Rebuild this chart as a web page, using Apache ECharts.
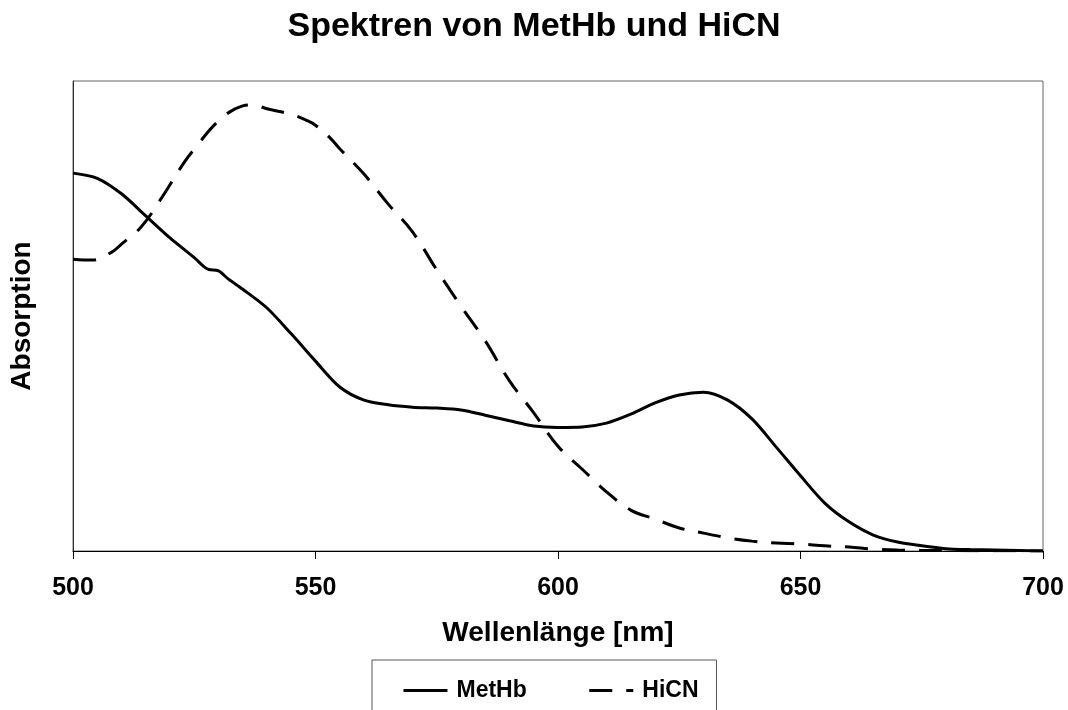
<!DOCTYPE html>
<html>
<head>
<meta charset="utf-8">
<script src="https://cdn.jsdelivr.net/npm/echarts@6/dist/echarts.min.js"></script>
<style>
html,body{margin:0;padding:0;background:#fff;}
#chart{width:1068px;height:710px;}
</style>
</head>
<body>
<div id="chart"></div>
<script>
const titleText = 'Spektren von MetHb und HiCN';
const xAxisName = 'Wellenlänge [nm]';
const yAxisName = 'Absorption';
const seriesNames = ['MetHb', 'HiCN'];
const xTicks = [500, 550, 600, 650, 700];

const metHbX = [500,505,510,515,520,525,527,528,530,532,535,540,545,550,555,560,565,570,575,580,585,590,595,600,605,610,615,620,625,630,635,640,645,650,655,660,665,670,675,680,685,690,695,700];
const metHbY = [80.4,79.3,76.0,71.3,66.6,62.4,60.5,59.9,59.6,57.9,55.7,51.7,46.2,40.4,34.9,32.1,31.1,30.6,30.4,30.0,28.9,27.7,26.6,26.3,26.4,27.2,29.1,31.5,33.2,33.8,32.1,28.1,22.1,16.0,10.2,6.2,3.4,1.9,1.1,0.5,0.3,0.2,0.1,0.0];

const hicnX = [500,504,508,510,514,518,523,525,530,535,537,540,545,548,550,553,555,560,565,570,575,580,585,590,595,600,605,610,615,620,625,630,635,640,645,650,655,660,665,670,680,690,700];
const hicnY = [62.1,61.9,63.6,65.3,68.9,74.7,82.8,85.5,91.5,94.7,94.9,94.1,92.9,91.7,90.6,87.9,85.6,80.2,73.8,67.9,59.8,52.1,44.7,36.2,29.4,22.3,17.4,12.6,8.7,6.8,4.9,3.8,2.8,2.1,1.7,1.5,1.1,0.85,0.4,0.2,0.1,0.05,0];

const FONT = '"Liberation Sans", Arial, sans-serif';
const pairs = (xs, ys) => xs.map((x, i) => [x, ys[i]]);

const chart = echarts.init(document.getElementById('chart'), null, {renderer: 'canvas'});
chart.setOption({
  backgroundColor: '#ffffff',
  animation: false,
  title: {
    text: titleText,
    left: 'center',
    top: 5,
    textStyle: {fontFamily: FONT, fontWeight: 'bold', fontSize: 34, color: '#000'}
  },
  grid: {
    left: 73, right: 25, top: 81, bottom: 159,
    show: true, borderColor: '#666', borderWidth: 1, backgroundColor: '#fff'
  },
  xAxis: {
    type: 'value',
    min: 500, max: 700, interval: 50,
    name: xAxisName,
    nameLocation: 'middle',
    nameGap: 68,
    nameTextStyle: {fontFamily: FONT, fontWeight: 'bold', fontSize: 28, color: '#000'},
    axisLine: {show: true, lineStyle: {color: '#000', width: 1}},
    axisTick: {show: true, inside: false, length: 8, lineStyle: {color: '#000'}},
    axisLabel: {
      margin: 25, fontFamily: FONT, fontWeight: 'bold', fontSize: 25, color: '#000',
      formatter: v => xTicks.includes(v) ? String(v) : ''
    },
    splitLine: {show: false}
  },
  yAxis: {
    type: 'value',
    min: 0, max: 100,
    name: yAxisName,
    nameLocation: 'middle',
    nameRotate: 90,
    nameGap: 37,
    nameTextStyle: {fontFamily: FONT, fontWeight: 'bold', fontSize: 28, color: '#000'},
    axisLine: {show: true, lineStyle: {color: '#333', width: 1}},
    axisTick: {show: false},
    axisLabel: {show: false},
    splitLine: {show: false}
  },
  legend: {
    data: seriesNames,
    left: 372, top: 660,
    orient: 'horizontal',
    itemWidth: 44, itemHeight: 20,
    itemGap: 61,
    padding: [19, 18, 40, 30],
    borderColor: '#555', borderWidth: 1,
    backgroundColor: '#fff',
    itemStyle: {opacity: 0},
    lineStyle: {width: 3},
    textStyle: {fontFamily: FONT, fontWeight: 'bold', fontSize: 23, color: '#000', padding: [0, 0, 0, 4]}
  },
  series: [
    {
      name: seriesNames[0], type: 'line', data: pairs(metHbX, metHbY),
      smooth: 0.3, symbol: 'none',
      lineStyle: {color: '#000', width: 3, type: 'solid'},
      itemStyle: {color: '#000'}
    },
    {
      name: seriesNames[1], type: 'line', data: pairs(hicnX, hicnY),
      smooth: 0.4, symbol: 'none',
      lineStyle: {color: '#000', width: 3, type: [23, 14]},
      itemStyle: {color: '#000'}
    }
  ]
});
</script>
</body>
</html>
